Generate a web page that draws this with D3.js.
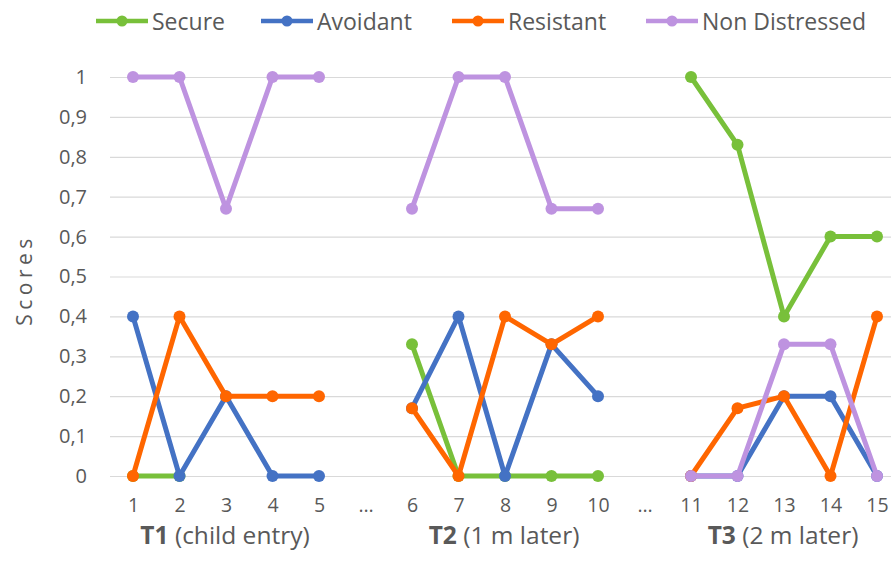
<!DOCTYPE html>
<html>
<head>
<meta charset="utf-8">
<script src="https://cdn.jsdelivr.net/npm/d3@7"></script>
<style>
  html, body { margin: 0; padding: 0; background: #fff; }
  svg { display: block; font-family: "Open Sans", sans-serif; }
</style>
</head>
<body>
<svg id="chart" width="891" height="564"></svg>
<script>
// Observation slots along the x axis ("…" separates the three time points)
const slots = ["1","2","3","4","5","…","6","7","8","9","10","…","11","12","13","14","15"];
const slotKeys = slots.map((s, i) => i);

// Scores per series, one value per slot (null = no point drawn)
const secure       = [0, 0, null, null, null, null, 0.33, 0, 0, 0, 0, null, 1, 0.83, 0.4, 0.6, 0.6];
const avoidant     = [0.4, 0, 0.2, 0, 0, null, 0.17, 0.4, 0, 0.33, 0.2, null, 0, 0, 0.2, 0.2, 0];
const resistant    = [0, 0.4, 0.2, 0.2, 0.2, null, 0.17, 0, 0.4, 0.33, 0.4, null, 0, 0.17, 0.2, 0, 0.4];
const nonDistressed= [1, 1, 0.67, 1, 1, null, 0.67, 1, 1, 0.67, 0.67, null, 0, 0, 0.33, 0.33, 0];

const seriesNames  = ["Secure", "Avoidant", "Resistant", "Non Distressed"];
const seriesValues = [secure, avoidant, resistant, nonDistressed];
const seriesColors = ["#78C03A", "#4472C4", "#FF6600", "#BE93E0"];

const yTicks = [0, 0.1, 0.2, 0.3, 0.4, 0.5, 0.6, 0.7, 0.8, 0.9, 1];

// Time-point group labels: bold code + description, centred on a slot
const groupCodes = ["T1", "T2", "T3"];
const groupNotes = [" (child entry)", " (1 m later)", " (2 m later)"];
const groupCenterSlot = [2, 8, 14];

const svg = d3.select("#chart");

const x = d3.scalePoint().domain(slotKeys).range([133, 877]);
const y = d3.scaleLinear().domain([0, 1]).range([476, 77]);

// Horizontal gridlines + y tick labels
const yAxis = d3.axisLeft(y)
  .tickValues(yTicks)
  .tickSize(-781)
  .tickPadding(23)
  .tickFormat(d => d3.format(".1~f")(d).replace(".", ","));

const gy = svg.append("g").attr("transform", "translate(110,0)").call(yAxis);
gy.select(".domain").remove();
gy.selectAll(".tick line").attr("stroke", "#d9d9d9").attr("stroke-width", 1.2);
gy.selectAll(".tick text")
  .attr("fill", "#595959")
  .style("font-size", "20px")
  .style("font-family", "'Open Sans', sans-serif");

// Y axis title
svg.append("text")
  .attr("transform", "translate(32,280) rotate(-90)")
  .attr("text-anchor", "middle")
  .attr("fill", "#595959")
  .style("font-size", "21px")
  .style("letter-spacing", "4.5px")
  .text("Scores");

// X slot labels
const xAxis = d3.axisBottom(x).tickSize(0).tickPadding(0).tickFormat(i => slots[i]);
const gx = svg.append("g").attr("transform", "translate(0,498)").call(xAxis);
gx.select(".domain").remove();
gx.selectAll(".tick text")
  .attr("fill", "#595959")
  .attr("dy", "0.71em")
  .style("font-size", "19.5px")
  .style("font-family", "'Open Sans', sans-serif");

// Time-point group labels
groupCodes.forEach((code, i) => {
  const t = svg.append("text")
    .attr("x", x(groupCenterSlot[i]) - 1)
    .attr("y", 544)
    .attr("text-anchor", "middle")
    .attr("fill", "#595959")
    .style("font-size", "24.5px");
  t.append("tspan").attr("font-weight", "bold").text(code);
  t.append("tspan").text(groupNotes[i]);
});

// Series lines and markers
const line = d3.line()
  .defined(d => d.v !== null)
  .x(d => x(d.i))
  .y(d => y(d.v));

seriesValues.forEach((vals, s) => {
  const pts = vals.map((v, i) => ({ i, v }));
  const g = svg.append("g");
  g.append("path")
    .datum(pts)
    .attr("fill", "none")
    .attr("stroke", seriesColors[s])
    .attr("stroke-width", 5)
    .attr("stroke-linejoin", "round")
    .attr("d", line);
  g.selectAll("circle")
    .data(pts.filter(d => d.v !== null))
    .join("circle")
    .attr("cx", d => x(d.i))
    .attr("cy", d => y(d.v))
    .attr("r", 6)
    .attr("fill", seriesColors[s]);
});

// Legend
const legendX = [96, 261, 452, 646];
const legend = svg.append("g");
seriesNames.forEach((name, s) => {
  const g = legend.append("g").attr("transform", `translate(${legendX[s]},21)`);
  g.append("line")
    .attr("x1", 0).attr("x2", 52)
    .attr("stroke", seriesColors[s])
    .attr("stroke-width", 4.5);
  g.append("circle").attr("cx", 26).attr("r", 5.5).attr("fill", seriesColors[s]);
  g.append("text")
    .attr("x", 56)
    .attr("y", 8.5)
    .attr("fill", "#595959")
    .style("font-size", "23px")
    .text(name);
});
</script>
</body>
</html>
